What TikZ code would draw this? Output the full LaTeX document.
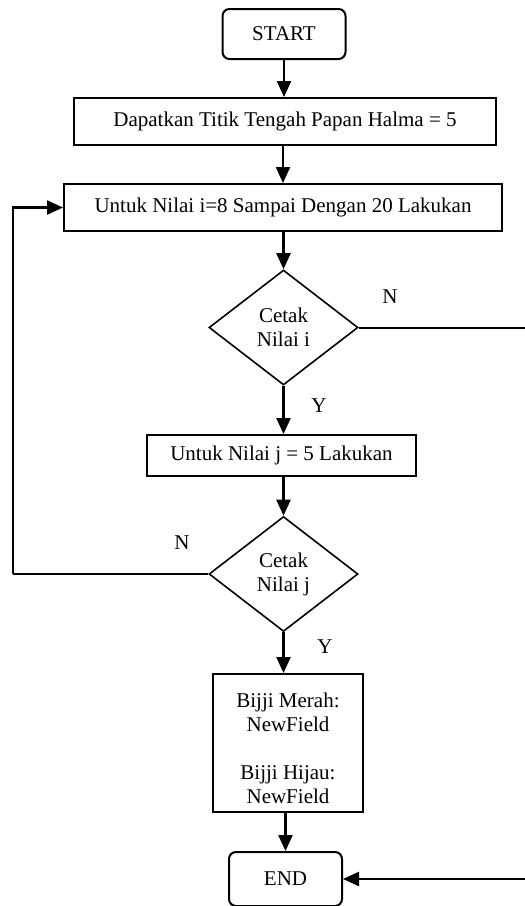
\documentclass[tikz,border=0pt]{standalone}
\usepackage{fontspec}
\setmainfont{Liberation Serif}
\usetikzlibrary{shapes.geometric,arrows.meta}

\begin{document}
\begin{tikzpicture}[x=1pt,y=-1pt,
    every node/.style={font=\fontsize{21}{24}\selectfont},
    kotak/.style={draw,line width=2pt,inner sep=2pt},
    ujung/.style={kotak,rounded corners=7pt},
    putusan/.style={draw,diamond,line width=1.6pt,inner sep=0pt,align=center,
      minimum width=149pt,minimum height=115pt},
    panah/.style={line width=2.3pt,-{Triangle[length=16pt,width=14pt]}},
    garis/.style={line width=2pt}]
    \useasboundingbox (0,0) rectangle (525,906);
    \node[ujung,minimum width=123pt,minimum height=50pt] (s) at (284, 34) {START};
    \node[kotak,minimum width=422pt,minimum height=47pt] (p) at (285, 121.5) {Dapatkan Titik Tengah Papan Halma = 5};
    \node[kotak,minimum width=438pt,minimum height=47pt] (u1) at (283, 207.5) {Untuk Nilai i=8 Sampai Dengan 20 Lakukan};
    \node[putusan] (c1) at (283.5, 327.5) {Cetak\\Nilai i};
    \node[kotak,minimum width=269pt,minimum height=41pt] (u2) at (281.5, 455.5) {Untuk Nilai j = 5 Lakukan};
    \node[putusan] (c2) at (283.5, 574) {Cetak\\Nilai j};
    \node[kotak,align=center,minimum width=150pt,minimum height=138pt] (b) at (288, 743) {\rule{0pt}{25pt}Bijji Merah:\\NewField\\[24pt]Bijji Hijau:\\NewField};
    \node[ujung,minimum width=113pt,minimum height=54pt] (e) at (285.5, 879) {END};
    \node (n1) at (390, 297) {N};
    \node (y1) at (319, 406) {Y};
    \node (n2) at (182, 543) {N};
    \node (y2) at (325, 647) {Y};
    \coordinate (l) at (13, 0);
    \coordinate (r) at (526, 0);
    \draw [panah] (s) -- (s |- p.north);
    \draw [panah] (u1 |- p.south) -- (u1.north);
    \draw [panah] (c1 |- u1.south) -- (c1.north);
    \draw [panah] (c1.south) -- (c1 |- u2.north);
    \draw [panah] (c2 |- u2.south) -- (c2.north);
    \draw [panah] (c2.south) -- (c2 |- b.north);
    \draw [panah] (e |- b.south) -- (e.north);
    \draw [garis] (c1.east) -- (c1.east -| r);
    \draw [panah] (c1.east -| r) |- (e.east);
    \draw [garis] (c2.west) -- (c2.west -| l);
    \draw [panah] (c2.west -| l) |- (u1.west);
  \end{tikzpicture}
\end{document}
